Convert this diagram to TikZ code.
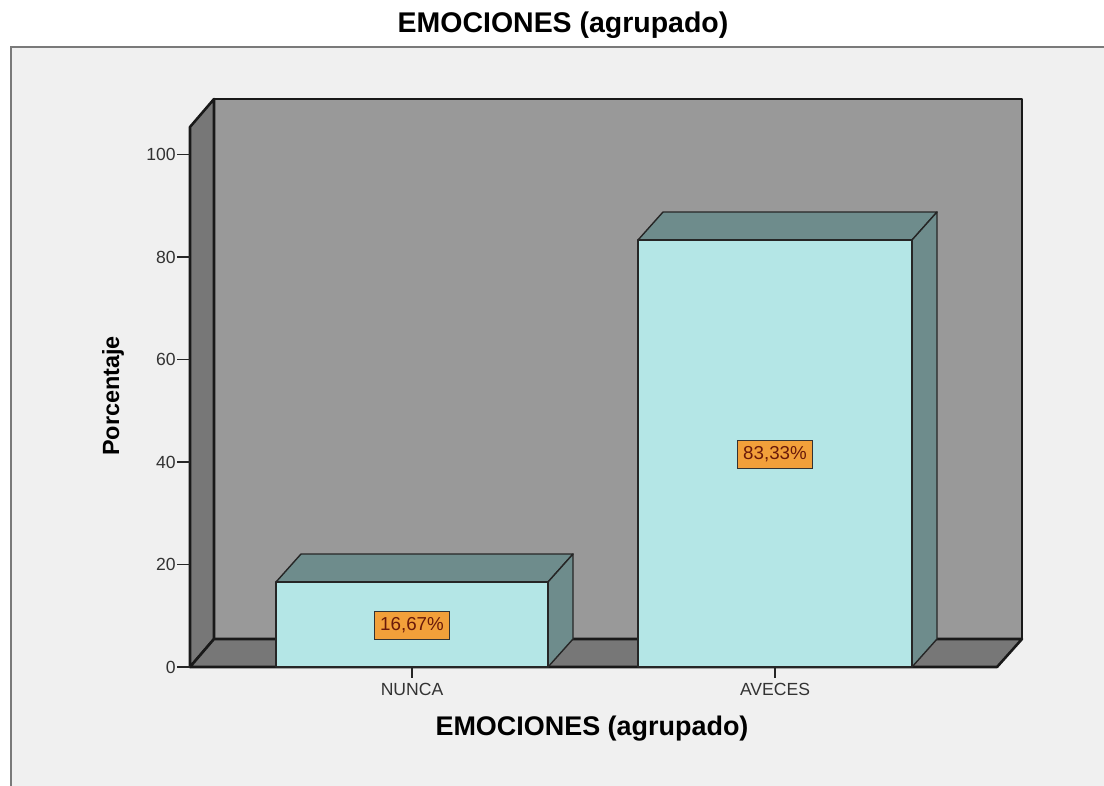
\documentclass[tikz,border=0pt]{standalone}
\usepackage{fontspec}
\setmainfont{Liberation Sans}
\usetikzlibrary{positioning}

\definecolor{panelbg}{HTML}{F0F0F0}
\definecolor{framegray}{HTML}{7A7A7A}
\definecolor{wallgray}{HTML}{999999}
\definecolor{sidegray}{HTML}{777777}
\definecolor{barfront}{HTML}{B4E6E6}
\definecolor{bartop}{HTML}{6E8C8C}
\definecolor{labelfill}{HTML}{F2A03A}
\definecolor{labeltext}{HTML}{6A1A0A}

\begin{document}
\begin{tikzpicture}[
  x=0.03cm, y=-0.03cm,
  wall/.style={draw=black!90, line width=2.2pt, line join=round},
  barface/.style={draw=black!85, line width=1.2pt, line join=round},
  tickline/.style={draw=black!85, line width=1.3pt},
  valuebox/.style={draw=black!80, line width=0.8pt, fill=labelfill, text=labeltext,
    inner sep=0pt, minimum width=2.25cm, minimum height=0.84cm,
    font=\fontsize{16}{18}\selectfont},
  ticklabel/.style={anchor=east, inner sep=1pt, text=black!80, font=\fontsize{15}{17}\selectfont},
  catlabel/.style={inner sep=1pt, text=black!80, font=\fontsize{15}{17}\selectfont},
  axistitle/.style={inner sep=0pt, font=\bfseries\fontsize{23}{26}\selectfont}
]
  \useasboundingbox (0,0) rectangle (1104,785);

  % frame of the chart
  \fill[white] (0,0) rectangle (1104,785);
  \draw[framegray, line width=1.6pt, fill=panelbg] (11,47) rectangle (1120,800);
  \node[axistitle, font=\bfseries\fontsize{24.3}{27}\selectfont] (title) at (563,25) {EMOCIONES (agrupado)};

  % walls and floor
  \draw[wall, fill=wallgray] (214,99) rectangle (1022,639);
  \draw[wall, fill=sidegray] (190,127) -- (214,99) -- (214,639) -- (190,667) -- cycle;
  \draw[wall, fill=sidegray] (190,667) -- (214,639) -- (1022,639) -- (997,667) -- cycle;

  % y axis
  \foreach \v in {0,20,...,100} {
    \draw[tickline] (177,{667-5.124*\v}) -- (190,{667-5.124*\v});
    \node[ticklabel] (ytick\v) at (177,{667-5.124*\v}) {\v};
  }
  \node[axistitle, rotate=90, font=\bfseries\fontsize{20}{24}\selectfont] (ytitle) at (113,396) {Porcentaje};

  % bar NUNCA
  \draw[barface, fill=bartop] (276,582) -- (301,554) -- (573,554) -- (548,582) -- cycle;
  \draw[barface, fill=bartop] (548,582) -- (573,554) -- (573,639) -- (548,667) -- cycle;
  \draw[barface, fill=barfront] (276,582) rectangle (548,667);
  \node[valuebox] (nunca val) at (412,625) {16,67\%};

  % bar AVECES
  \draw[barface, fill=bartop] (638,240) -- (663,212) -- (937,212) -- (912,240) -- cycle;
  \draw[barface, fill=bartop] (912,240) -- (937,212) -- (937,639) -- (912,667) -- cycle;
  \draw[barface, fill=barfront] (638,240) rectangle (912,667);
  \node[valuebox] (aveces val) at (775,454) {83,33\%};

  % x axis
  \coordinate (nunca tick) at (412,667);
  \coordinate (aveces tick) at (775,667);
  \node[catlabel, below=4.5mm of nunca tick] (nunca) {NUNCA};
  \node[catlabel, below=4.5mm of aveces tick] (aveces) {AVECES};
  \draw[tickline] (nunca tick) -- ++(0,11);
  \draw[tickline] (aveces tick) -- ++(0,11);
  \node[axistitle] (xtitle) at (592,729) {EMOCIONES (agrupado)};
\end{tikzpicture}
\end{document}
